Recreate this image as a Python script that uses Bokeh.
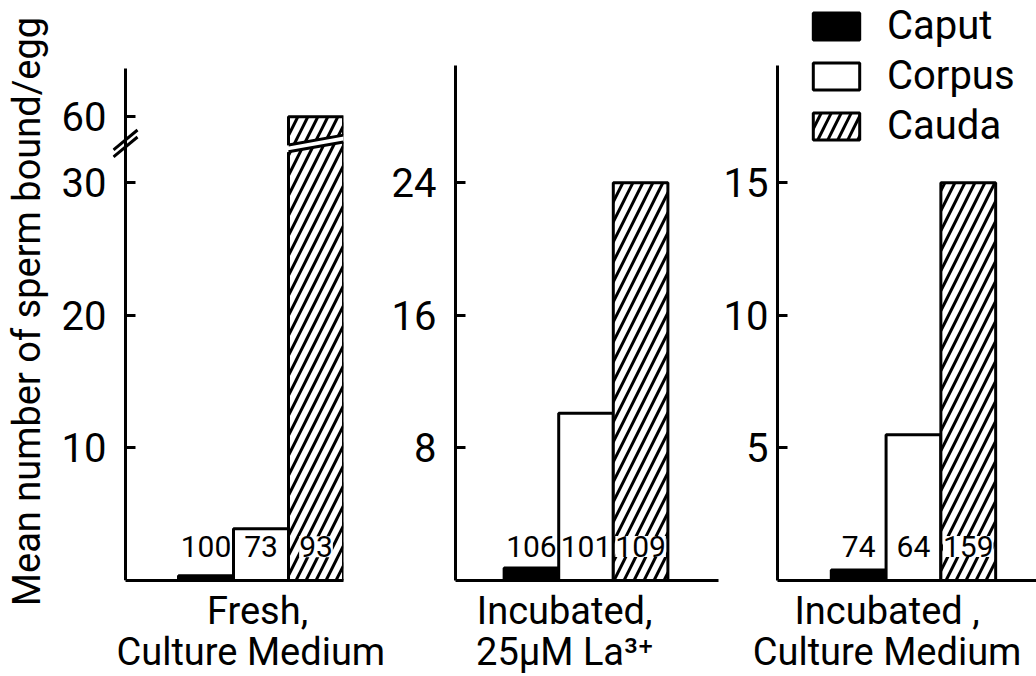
import math
from bokeh.plotting import figure
from bokeh.models import (ColumnDataSource, FixedTicker, Legend, LegendItem, Arrow, Range1d,
                          LinearAxis)
from bokeh.layouts import row
from bokeh.embed import file_html
from bokeh.resources import INLINE
from bokeh.core.properties import value

# ---------------- data ----------------
categories = ["Caput", "Corpus", "Cauda"]
fresh_values = [0.35, 3.9, 60.0]
la_values = [0.75, 10.1, 24.0]
incubated_values = [0.4, 5.5, 15.0]
fresh_counts = ["100", "73", "93"]
la_counts = ["106", "101", "109"]
incubated_counts = ["74", "64", "159"]
fresh_ticks = [10, 20, 30, 60]
la_ticks = [8, 16, 24]
incubated_ticks = [5, 10, 15]
panel_titles = [["Fresh,", "Culture Medium"],
                ["Incubated,", "25\u03bcM La\u00b3\u207a"],
                ["Incubated ,", "Culture Medium"]]
y_title = "Mean number of sperm bound/egg"

# ---------------- style / layout ----------------
FONT = "Roboto"
H = 676
BASE_Y = 582          # pixel row of the baseline
BAR_PX = 55.0
fills = ["black", "white", "white"]
hatches = [" ", " ", "/"]
label_bg = [0.0, 0.0, 1.0]
TICK_FONT = "40px"

BREAK_LOW, BREAK_HIGH, BREAK_POS = 30, 60, 35


def broken(v):
    return v if v <= BREAK_LOW else BREAK_POS + (v - BREAK_HIGH)


def ident(v):
    return v


def panel(values, counts, ticks, k, x_start, axis_x, width, bl, br, bt, axis_top_px, titles,
          label_x, standoff, transform=ident, own_labels=True):
    frame_w = width - bl - br
    x_end = x_start + frame_w / BAR_PX
    y_end = (BASE_Y - bt) / k
    p = figure(width=width, height=H, x_range=Range1d(x_start, x_end), y_range=Range1d(0, y_end),
               output_backend="svg", toolbar_location=None,
               min_border_left=bl, min_border_right=br, min_border_top=bt,
               min_border_bottom=H - BASE_Y)
    p.frame_align = False
    p.outline_line_color = None
    p.grid.visible = False
    p.background_fill_color = "white"
    p.border_fill_color = "white"

    src = ColumnDataSource(dict(x=list(range(len(categories))),
                                top=[transform(v) for v in values],
                                fill=fills, hatch=hatches, cat=categories, bg=label_bg,
                                n=counts, ny=[34.0 / k] * len(counts)))
    r = p.vbar(x="x", top="top", bottom=0, width=1, source=src,
               fill_color="fill", line_color="black", line_width=3,
               hatch_pattern="hatch", hatch_color="black", hatch_weight=3, hatch_scale=20)
    p.text(x="x", y="ny", text="n", source=src, text_align="center", text_baseline="middle",
           text_font=value(FONT), text_font_size="30px", text_color="black",
           background_fill_color="white", background_fill_alpha="bg")

    ax = p.yaxis[0]
    ax.ticker = FixedTicker(ticks=[transform(t) for t in ticks])
    ax.major_label_overrides = {transform(t): (str(t) if own_labels else "") for t in ticks}
    ax.bounds = (0, (BASE_Y - axis_top_px) / k)
    ax.axis_line_width = 3
    ax.major_tick_line_width = 3
    ax.major_tick_in = 10
    ax.major_tick_out = 0
    ax.minor_tick_line_color = None
    ax.major_label_text_font = FONT
    ax.major_label_text_font_size = TICK_FONT
    ax.major_label_text_color = "black"
    ax.major_label_standoff = standoff if own_labels else 0
    if axis_x is not None:
        ax.fixed_location = axis_x

    xa = p.xaxis[0]
    xa.ticker = FixedTicker(ticks=[label_x])
    xa.major_label_overrides = {label_x: titles[0]}
    xa.bounds = (axis_x if axis_x is not None else x_start, x_end)
    xa.axis_line_width = 3
    xa.major_tick_line_color = None
    xa.major_tick_in = 0
    xa.major_tick_out = 0
    xa.minor_tick_line_color = None
    xa.major_label_text_font = FONT
    xa.major_label_text_font_size = "38px"
    xa.major_label_text_color = "black"
    xa.major_label_standoff = 8

    xb = LinearAxis(ticker=FixedTicker(ticks=[label_x]), major_label_overrides={label_x: titles[1]},
                    axis_line_color=None, major_tick_line_color=None, minor_tick_line_color=None,
                    major_tick_in=0, major_tick_out=0, major_label_standoff=-6,
                    major_label_text_font=FONT, major_label_text_font_size="38px",
                    major_label_text_color="black")
    p.add_layout(xb, "below")
    return p, r


# Panel 1 (broken axis); frame starts left of the axis line so the break marks show
FL1 = 112
k1 = 133 / 10
x1 = -0.5 - (178 - FL1) / BAR_PX
ax1 = -0.5 - (178 - 125) / BAR_PX
W1 = 388
p1, r1 = panel(fresh_values, fresh_counts, fresh_ticks, k1, x1, ax1, W1, FL1, W1 - 343, 42, 68,
               panel_titles[0], (257 - 178) / BAR_PX - 0.5, 0, transform=broken, own_labels=False)
# tick labels + title on an outer axis (not clipped)
lab = LinearAxis(ticker=FixedTicker(ticks=[broken(t) for t in fresh_ticks]),
                 major_label_overrides={broken(t): str(t) for t in fresh_ticks},
                 axis_line_color=None, major_tick_line_color=None, minor_tick_line_color=None,
                 major_tick_in=0, major_tick_out=0, major_label_standoff=6,
                 major_label_text_font=FONT, major_label_text_font_size=TICK_FONT,
                 major_label_text_color="black",
                 axis_label=y_title, axis_label_standoff=10, axis_label_text_font=FONT,
                 axis_label_text_font_size="38px", axis_label_text_font_style="normal",
                 axis_label_text_color="black")
p1.add_layout(lab, "left")
# gap through the Cauda bar
gx = [1.42, 2.58, 2.58, 1.42]
gy = [32.80, 33.67, 33.16, 32.29]
p1.patch(gx, gy, fill_color="white", line_color=None)
p1.line([1.5, 2.5], [32.86, 33.61], line_color="black", line_width=3)
p1.line([1.5, 2.5], [32.35, 33.10], line_color="black", line_width=3)
# axis break marks
dx = 12 / BAR_PX
for yc in [33.25, 32.72]:
    p1.add_layout(Arrow(x_start=ax1 - dx, y_start=yc - 0.75, x_end=ax1 + dx, y_end=yc + 0.75,
                        start=None, end=None, line_width=3, line_color="black"))

# Panel 2
k2 = 133 / 8
x2 = -0.5 - (502 - 453) / BAR_PX
W2 = 720 - W1
p2, r2 = panel(la_values, la_counts, la_ticks, k2, x2, None, W2, 453 - W1, 2, 0, 65, panel_titles[1],
               (563 - 502) / BAR_PX - 0.5, 19)

# Panel 3
k3 = 133 / 5
x3 = -0.5 - (830 - 776) / BAR_PX
p3, r3 = panel(incubated_values, incubated_counts, incubated_ticks, k3, x3, None, 316, 56, 0, 0, 65,
               panel_titles[2], (886 - 830) / BAR_PX - 0.5, 9)

legend = Legend(items=[LegendItem(label=c, renderers=[r3], index=i) for i, c in enumerate(categories)],
                location=(30, 582 - 3 - 148), glyph_width=58, glyph_height=34, label_standoff=22,
                spacing=3, padding=0, margin=0, border_line_color=None, background_fill_alpha=0,
                label_text_font=FONT, label_text_font_size="40px", label_text_color="black")
p3.add_layout(legend)

layout = row(p1, p2, p3)
open("out.html", "w").write(file_html(layout, INLINE))
